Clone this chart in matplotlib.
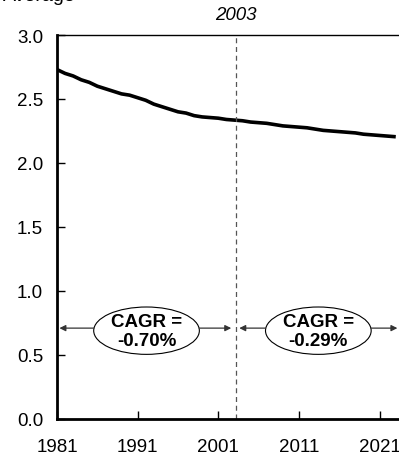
import matplotlib
matplotlib.use("Agg")
import matplotlib.pyplot as plt
from matplotlib.patches import Ellipse

plt.rcParams['font.family'] = ['Liberation Sans', 'DejaVu Sans']

# data
years = list(range(1981, 2024))
average = [2.73, 2.70, 2.68, 2.65, 2.63, 2.60, 2.58, 2.56, 2.54, 2.53,
           2.51, 2.49, 2.46, 2.44, 2.42, 2.40, 2.39, 2.37, 2.36, 2.355,
           2.35, 2.34, 2.335, 2.33, 2.32, 2.315, 2.31, 2.30, 2.29, 2.285,
           2.28, 2.275, 2.265, 2.255, 2.25, 2.245, 2.24, 2.235, 2.225, 2.22,
           2.215, 2.21, 2.205]
split_year = 2003.2
split_label = "2003"
cagr_labels = ["CAGR =\n-0.70%", "CAGR =\n-0.29%"]
cagr_centers = [1992.1, 2013.4]
arrow_spans = [(1981.3, 2002.6), (2003.6, 2023.2)]
xticks = [1981, 1991, 2001, 2011, 2021]
yticks = [0.0, 0.5, 1.0, 1.5, 2.0, 2.5, 3.0]

fig = plt.figure(figsize=(3.99, 4.6), dpi=100)
ax = fig.add_axes([57 / 399, 40 / 460, 1 - 57 / 399 + 0.002, 384 / 460])

ax.plot(years, average, color='black', lw=2.6, solid_capstyle='butt')
ax.axvline(split_year, color='#555555', lw=0.9, ls=(0, (4, 3)))

ax.set_xlim(1981, 2023.5)
ax.set_ylim(0, 3.0)
ax.set_xticks(xticks)
ax.set_yticks(yticks)
ax.set_yticklabels([f"{v:.1f}" for v in yticks])
ax.tick_params(axis='both', direction='in', labelsize=13.5, length=6, width=1)
ax.tick_params(axis='x', pad=14)
ax.tick_params(axis='y', pad=10)

for side in ['left', 'bottom']:
    ax.spines[side].set_linewidth(2)
ax.spines['top'].set_linewidth(1)
ax.spines['right'].set_visible(False)

ax.text(split_year, 3.09, split_label, ha='center', va='bottom',
        fontsize=13.5, style='italic')
fig.text(3 / 399, 1 - 1 / 460, "Average", ha='left', va='baseline', fontsize=14)

ew, eh, ey, ay = 13.1, 0.37, 0.69, 0.71
for lab, cx, (x0, x1) in zip(cagr_labels, cagr_centers, arrow_spans):
    ax.add_patch(Ellipse((cx, ey), ew, eh, facecolor='white',
                         edgecolor='black', lw=0.8, zorder=3))
    ax.text(cx, ey, lab, ha='center', va='center', fontsize=13.5,
            fontweight='bold', linespacing=1.15, zorder=4)
    for tx, sx in [(x0, cx - ew / 2), (x1, cx + ew / 2)]:
        ax.annotate('', xy=(tx, ay), xytext=(sx, ay),
                    arrowprops=dict(arrowstyle='-|>', color='#333333',
                                    lw=0.9, mutation_scale=9,
                                    shrinkA=0, shrinkB=0))

fig.savefig("out.png", dpi=100)
